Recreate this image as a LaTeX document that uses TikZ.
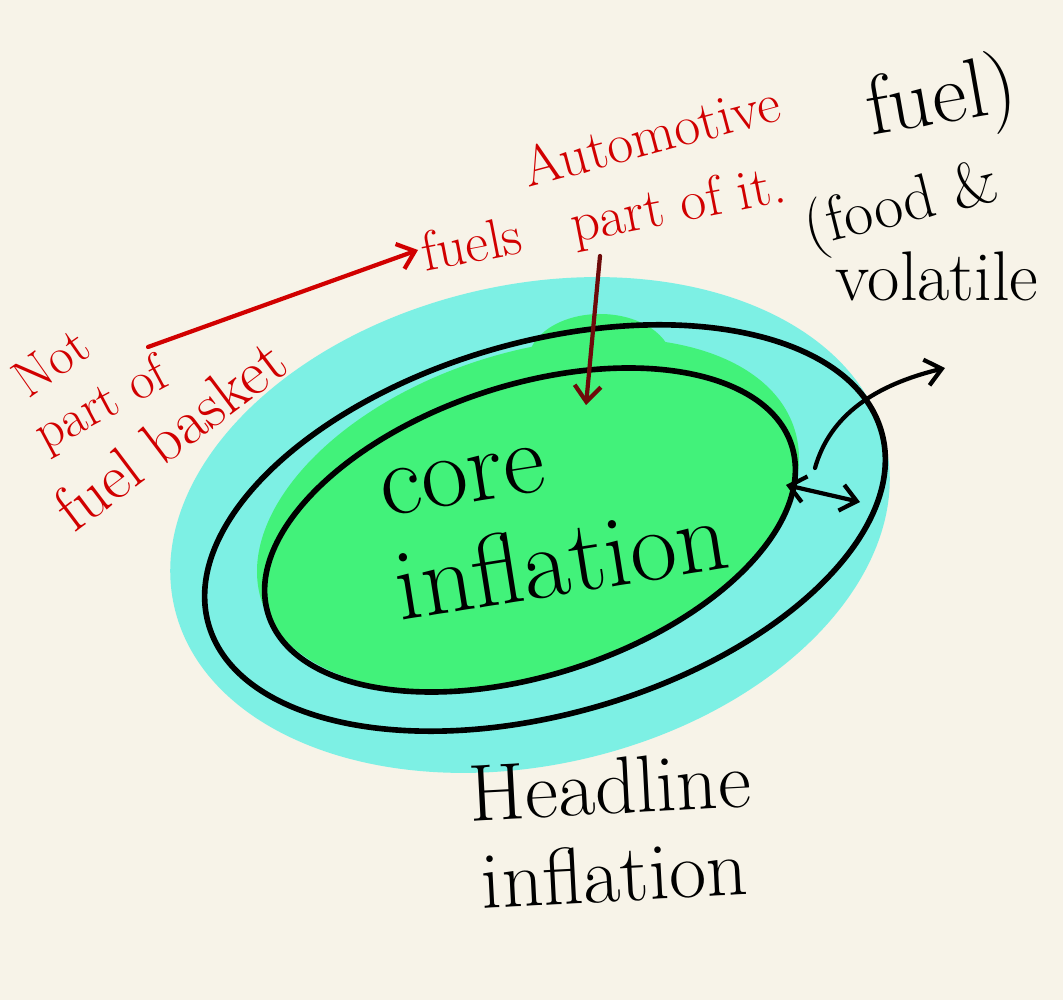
\documentclass[tikz,border=0pt]{standalone}
\usepackage{tikz}
\usetikzlibrary{arrows.meta}
\definecolor{paper}{HTML}{F7F3E8}
\definecolor{headcyan}{HTML}{7DF0E4}
\definecolor{coregreen}{HTML}{42F27A}
\definecolor{penred}{HTML}{D10000}
\definecolor{darkpen}{HTML}{6E0A0A}
\tikzset{
  redtext/.style={text=penred, font=\fontsize{30}{34}\selectfont, inner sep=0pt, anchor=base west},
  blacktext/.style={text=black, font=\fontsize{40}{42}\selectfont, inner sep=0pt},
  ring/.style={draw=black, line width=3.2pt},
  pen/.style={line width=2.4pt, line cap=round},
  barb/.style={-{Straight Barb[length=9pt,width=15pt]}}
}

\begin{document}
\begin{tikzpicture}[x=0.02cm, y=-0.02cm]
        \useasboundingbox[fill=paper] (0,0) rectangle (1063,1000);
        % Coloured areas
        \fill[headcyan, rotate around={13:(530,525)}] (530,525) ellipse [x radius=365, y radius=240];
        \fill[coregreen, rotate around={18:(528,515)}] (528,515) ellipse [x radius=280, y radius=162];
        \fill[coregreen] (600,362) ellipse [x radius=72, y radius=48];
        % Rings
        \draw[ring, rotate around={16:(545,528)}] (545,528) ellipse [x radius=350, y radius=186];
        \draw[ring, rotate around={18:(530,530)}] (530,530) ellipse [x radius=275, y radius=145];
        % Labels inside and below
        \node[blacktext, font=\fontsize{58}{60}\selectfont, align=left, rotate=9] (core) at (555,520) {core\\inflation};
        \node[blacktext, font=\fontsize{46}{50}\selectfont, align=center, rotate=3] (head) at (612,830) {Headline\\inflation};
        % Red notes
        \node[redtext, rotate=35] (nottxt) at (28,400) {Not};
        \node[redtext, rotate=28] (parttxt) at (45,452) {part of};
        \node[redtext, font=\fontsize{36}{38}\selectfont, rotate=37] (basket) at (74,534) {fuel basket};
        \node[redtext, font=\fontsize{32}{34}\selectfont, rotate=15] (auto) at (528,188) {Automotive};
        \node[redtext, font=\fontsize{32}{34}\selectfont, rotate=11] (fuels) at (425,272) {fuels\hspace{0.9em}part of it.};
        % Volatile note
        \node[blacktext, font=\fontsize{48}{50}\selectfont, rotate=10] (fueltxt) at (942,102) {fuel)};
        \node[blacktext, font=\fontsize{36}{38}\selectfont, rotate=14] (foodtxt) at (902,208) {(food \&};
        \node[blacktext] (volatile) at (937,276) {volatile};
        % Arrows
        \coordinate (notend) at (148,347);
        \coordinate (fueltip) at (418,250);
        \coordinate (autoend) at (600,256);
        \coordinate (coretip) at (586,405);
        \coordinate (innerpt) at (786,485);
        \coordinate (outerpt) at (860,502);
        \coordinate (curvest) at (815,468);
        \coordinate (voltip) at (945,368);
        \draw[pen, barb, penred] (notend) -- (fueltip);
        \draw[pen, barb, darkpen] (autoend) -- (coretip);
        \draw[pen, {Straight Barb[length=9pt,width=15pt]}-{Straight Barb[length=9pt,width=15pt]}] (innerpt) -- (outerpt);
        \draw[pen, barb] (curvest) .. controls (830,415) and (875,385) .. (voltip);
    \end{tikzpicture}
\end{document}
